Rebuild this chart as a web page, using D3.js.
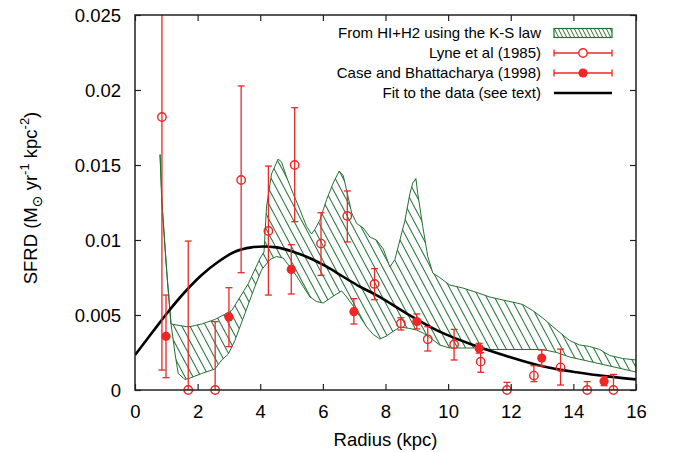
<!DOCTYPE html>
<html><head><meta charset="utf-8">
<script src="https://cdn.jsdelivr.net/npm/d3@7"></script>
<style>
body{margin:0;background:#fff;}
text{font-family:"Liberation Sans",Arial,Helvetica,sans-serif;fill:#000;}
</style>
</head><body>
<svg id="chart" width="674" height="452"></svg>
<script>
// ---------------- data ----------------
const xTicks = [0, 2, 4, 6, 8, 10, 12, 14, 16];
const xTickLabels = ["0", "2", "4", "6", "8", "10", "12", "14", "16"];
const yTicks = [0, 0.005, 0.01, 0.015, 0.02, 0.025];
const yTickLabels = ["0", "0.005", "0.01", "0.015", "0.02", "0.025"];

const legendLabels = ["From HI+H2 using the K-S law", "Lyne et al (1985)", "Case and Bhattacharya (1998)", "Fit to the data (see text)"];

// Lyne et al (1985): radius, SFRD, lower, upper
const lyneR    = [0.86, 1.70, 2.56, 3.39, 4.26, 5.10, 5.94, 6.78, 7.65, 8.49, 9.35, 10.19, 11.04, 11.88, 12.74, 13.59, 14.44, 15.28];
const lyneSFRD = [0.0182, 0, 0, 0.0140, 0.0106, 0.0150, 0.00976, 0.0116, 0.00707, 0.00444, 0.00338, 0.00304, 0.00189, 0, 0.00096, 0.00151, 0, 0];
const lyneLow  = [0.00133, 0, 0, 0.00782, 0.00633, 0.01122, 0.00764, 0.00987, 0.00602, 0.0040, 0.0026, 0.0020, 0.00118, 0, 0.00056, 0.00033, 0, 0];
const lyneHigh = [0.035, 0.00993, 0.00456, 0.02027, 0.01493, 0.01882, 0.01182, 0.01327, 0.00809, 0.00482, 0.00422, 0.00404, 0.00249, 0.00051, 0.00162, 0.00273, 0.00056, 0.00104];

// Case and Bhattacharya (1998)
const caseR    = [0.99, 3.00, 4.99, 6.99, 9.00, 10.99, 12.99, 14.98];
const caseSFRD = [0.00358, 0.00487, 0.00804, 0.00522, 0.00456, 0.00278, 0.00213, 0.00058];
const caseLow  = [0.00082, 0.00289, 0.0064, 0.0044, 0.00407, 0.00246, 0.0016, 0.00029];
const caseHigh = [0.00633, 0.00682, 0.00969, 0.00609, 0.00507, 0.00311, 0.00267, 0.00089];

// Fit to the data
const fitR    = [0, 0.53, 1.06, 1.60, 2.13, 2.66, 3.19, 3.72, 4.10, 4.52, 5.05, 5.59, 6.12, 6.65, 7.18, 7.71, 8.67, 9.73, 10.80, 11.86, 13.02, 14.10, 15.16, 16.0];
const fitSFRD = [0.00233, 0.00378, 0.00522, 0.00655, 0.00767, 0.00855, 0.00922, 0.00951, 0.00957, 0.00951, 0.00922, 0.00878, 0.00822, 0.00755, 0.00689, 0.00633, 0.00511, 0.00389, 0.00300, 0.00227, 0.00158, 0.00118, 0.00089, 0.00071];

// K-S law band: upper and lower edges [radius, SFRD]
const bandUpper = [[0.80,0.0157],[0.85,0.0128],[1.01,0.0079],[1.15,0.0044],[1.70,0.0042],[2.13,0.0044],[2.55,0.0047],[3.09,0.0053],[3.62,0.0071],[4.00,0.0088],[4.12,0.0092],[4.20,0.0122],[4.36,0.0144],[4.57,0.0154],[4.68,0.0152],[4.84,0.0142],[5.05,0.0131],[5.27,0.0120],[5.48,0.0109],[5.64,0.0104],[5.74,0.0107],[5.90,0.0113],[6.12,0.0127],[6.33,0.0138],[6.52,0.0146],[6.65,0.0143],[6.76,0.0133],[6.92,0.0118],[7.08,0.0111],[7.29,0.0108],[7.50,0.0102],[7.71,0.0100],[7.93,0.0094],[8.14,0.0082],[8.30,0.0087],[8.46,0.0100],[8.62,0.0113],[8.78,0.0131],[8.87,0.0138],[8.97,0.0141],[9.03,0.0131],[9.19,0.0109],[9.35,0.0089],[9.51,0.0078],[9.73,0.0075],[10.05,0.0070],[10.47,0.0068],[10.92,0.0065],[11.33,0.0062],[11.75,0.0060],[12.19,0.0058],[12.38,0.0057],[12.70,0.0053],[13.02,0.0048],[13.47,0.0040],[13.88,0.0033],[14.20,0.0030],[14.52,0.0029],[14.84,0.0027],[15.16,0.0023],[15.58,0.0021],[16.0,0.0020]];
const bandLower = [[0.80,0.0157],[0.87,0.0122],[1.03,0.0075],[1.15,0.0044],[1.28,0.0024],[1.38,0.0011],[1.60,0.0007],[1.76,0.0008],[2.13,0.0011],[2.55,0.0014],[2.77,0.0020],[2.98,0.0024],[3.19,0.0033],[3.51,0.0051],[3.83,0.0069],[4.04,0.0080],[4.31,0.0087],[4.52,0.0089],[4.73,0.0088],[4.95,0.0082],[5.16,0.0076],[5.37,0.0069],[5.59,0.0062],[5.80,0.0059],[6.01,0.0058],[6.22,0.0061],[6.44,0.0064],[6.60,0.0066],[6.76,0.0062],[6.97,0.0056],[7.18,0.0049],[7.40,0.0042],[7.61,0.0037],[7.82,0.0034],[8.03,0.0036],[8.24,0.0039],[8.46,0.0042],[8.78,0.0041],[8.99,0.0040],[9.20,0.0038],[9.42,0.0035],[9.73,0.0030],[10.05,0.0028],[10.47,0.0028],[10.92,0.0028],[11.33,0.0027],[11.97,0.0027],[13.02,0.0027],[13.47,0.0025],[13.88,0.0022],[14.52,0.0019],[15.16,0.0016],[16.0,0.0012]];

// ---------------- drawing ----------------
const W = 674, H = 452;
const M = {left: 135, right: 38, top: 15, bottom: 62};
const RED = "#ee2626", GREEN = "#237033";

const svg = d3.select("#chart");
const x = d3.scaleLinear().domain([0, 16]).range([M.left, W - M.right]);
const y = d3.scaleLinear().domain([0, 0.025]).range([H - M.bottom, M.top]);

const defs = svg.append("defs");
defs.append("clipPath").attr("id", "plotclip").append("rect")
  .attr("x", M.left).attr("y", M.top).attr("width", W - M.left - M.right).attr("height", H - M.top - M.bottom);

function hatchPattern(id, w, h, sw) {
  const p = defs.append("pattern").attr("id", id)
    .attr("patternUnits", "userSpaceOnUse").attr("width", w).attr("height", h);
  [-w, 0, w].forEach(o => {
    p.append("line").attr("x1", o - w * 0.25).attr("y1", -h * 0.25)
      .attr("x2", o + w * 1.25).attr("y2", h * 1.25)
      .attr("stroke", GREEN).attr("stroke-width", sw);
  });
}
hatchPattern("hatch", 8, 15, 1.05);
hatchPattern("hatchLegend", 4, 8, 1.0);

const plot = svg.append("g").attr("clip-path", "url(#plotclip)");

// band
const bandPts = bandUpper.concat(bandLower.slice().reverse());
plot.append("path")
  .attr("d", d3.line().x(d => x(d[0])).y(d => y(d[1]))(bandPts) + "Z")
  .attr("fill", "url(#hatch)").attr("stroke", GREEN).attr("stroke-width", 1);

// fit curve
plot.append("path")
  .datum(fitR.map((r, i) => [r, fitSFRD[i]]))
  .attr("d", d3.line().x(d => x(d[0])).y(d => y(d[1])).curve(d3.curveMonotoneX))
  .attr("fill", "none").attr("stroke", "#000").attr("stroke-width", 2.6);

// error bars
function errbars(R, low, high) {
  const g = plot.append("g").attr("stroke", RED).attr("stroke-width", 1.3).attr("fill", "none");
  R.forEach((r, i) => {
    const cx = x(r);
    g.append("line").attr("x1", cx).attr("x2", cx).attr("y1", y(low[i])).attr("y2", y(high[i]));
    g.append("line").attr("x1", cx - 3.5).attr("x2", cx + 3.5).attr("y1", y(low[i])).attr("y2", y(low[i]));
    g.append("line").attr("x1", cx - 3.5).attr("x2", cx + 3.5).attr("y1", y(high[i])).attr("y2", y(high[i]));
  });
}
errbars(lyneR, lyneLow, lyneHigh);
errbars(caseR, caseLow, caseHigh);

const pts = svg.append("g");
lyneR.forEach((r, i) => {
  pts.append("circle").attr("cx", x(r)).attr("cy", y(lyneSFRD[i])).attr("r", 4.2)
    .attr("fill", "none").attr("stroke", RED).attr("stroke-width", 1.4);
});
caseR.forEach((r, i) => {
  pts.append("circle").attr("cx", x(r)).attr("cy", y(caseSFRD[i])).attr("r", 4.6)
    .attr("fill", RED).attr("stroke", "none");
});

// axes
const axB = svg.append("g").attr("transform", `translate(0,${H - M.bottom})`)
  .call(d3.axisBottom(x).tickValues(xTicks).tickFormat((d, i) => xTickLabels[i]).tickSizeInner(-6).tickSizeOuter(0).tickPadding(15));
const axT = svg.append("g").attr("transform", `translate(0,${M.top})`)
  .call(d3.axisTop(x).tickValues(xTicks).tickFormat("").tickSizeInner(-6).tickSizeOuter(0));
const axL = svg.append("g").attr("transform", `translate(${M.left},0)`)
  .call(d3.axisLeft(y).tickValues(yTicks).tickFormat((d, i) => yTickLabels[i]).tickSizeInner(-6).tickSizeOuter(0).tickPadding(14));
const axR = svg.append("g").attr("transform", `translate(${W - M.right},0)`)
  .call(d3.axisRight(y).tickValues(yTicks).tickFormat("").tickSizeInner(-6).tickSizeOuter(0));
[axB, axT, axL, axR].forEach(a => {
  a.select(".domain").remove();
  a.selectAll(".tick line").attr("stroke", "#222").attr("stroke-width", 1.2);
  a.selectAll("text").attr("font-size", 18.5).attr("font-family", "Liberation Sans, Arial, sans-serif").attr("fill", "#000");
});
axL.selectAll("text").attr("dy", "0.35em");

svg.append("rect").attr("x", M.left).attr("y", M.top)
  .attr("width", W - M.left - M.right).attr("height", H - M.top - M.bottom)
  .attr("fill", "none").attr("stroke", "#222").attr("stroke-width", 1.5);

// axis labels
svg.append("text").attr("x", (M.left + W - M.right) / 2).attr("y", 446)
  .attr("text-anchor", "middle").attr("font-size", 18.5).text("Radius (kpc)");

const yl = svg.append("text").attr("transform", "translate(37,198) rotate(-90)")
  .attr("text-anchor", "middle").attr("font-size", 18.5).style("white-space", "pre");
yl.append("tspan").text("SFRD (M");
yl.append("tspan").attr("dy", 5).attr("font-size", 14).attr("font-family", "DejaVu Sans").text("\u2299");
yl.append("tspan").attr("dy", -5).text(" yr");
yl.append("tspan").attr("dy", -8).attr("font-size", 13).text("-1");
yl.append("tspan").attr("dy", 8).text(" kpc");
yl.append("tspan").attr("dy", -8).attr("font-size", 13).text("-2");
yl.append("tspan").attr("dy", 8).text(")");

// legend
const lg = svg.append("g");
const rowY = [33, 53, 73, 93];
const sx1 = 554, sx2 = 612, tx = 541;
legendLabels.forEach((t, i) => {
  lg.append("text").attr("x", tx).attr("y", rowY[i]).attr("dy", "0.35em")
    .attr("text-anchor", "end").attr("font-size", 15).text(t);
});
lg.append("rect").attr("x", sx1).attr("y", rowY[0] - 4.5).attr("width", sx2 - sx1).attr("height", 9)
  .attr("fill", "url(#hatchLegend)").attr("stroke", GREEN).attr("stroke-width", 1.2);
[1, 2].forEach(i => {
  const g = lg.append("g").attr("stroke", RED).attr("stroke-width", 1.3);
  g.append("line").attr("x1", sx1).attr("x2", sx2).attr("y1", rowY[i]).attr("y2", rowY[i]);
  g.append("line").attr("x1", sx1).attr("x2", sx1).attr("y1", rowY[i] - 3.5).attr("y2", rowY[i] + 3.5);
  g.append("line").attr("x1", sx2).attr("x2", sx2).attr("y1", rowY[i] - 3.5).attr("y2", rowY[i] + 3.5);
  const c = lg.append("circle").attr("cx", (sx1 + sx2) / 2).attr("cy", rowY[i]);
  if (i === 1) c.attr("r", 4.2).attr("fill", "#fff").attr("stroke", RED).attr("stroke-width", 1.4);
  else c.attr("r", 4.6).attr("fill", RED);
});
lg.append("line").attr("x1", sx1).attr("x2", sx2).attr("y1", rowY[3]).attr("y2", rowY[3])
  .attr("stroke", "#000").attr("stroke-width", 2.6);
</script>
</body></html>
